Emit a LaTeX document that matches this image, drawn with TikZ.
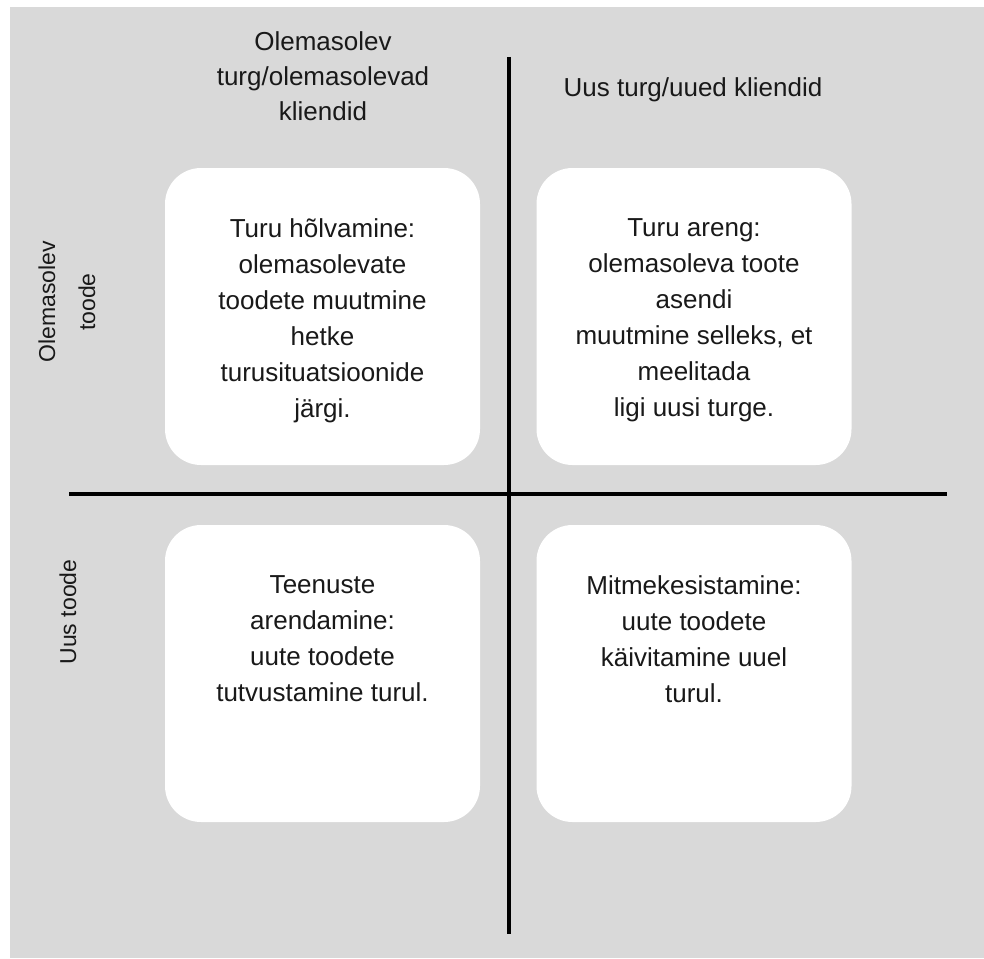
\documentclass[tikz,border=0pt]{standalone}
\usepackage{fontspec}
\setmainfont{Liberation Sans}
\usetikzlibrary{positioning}
\definecolor{bggray}{HTML}{D9D9D9}
\tikzset{
  quad/.style={fill=white, rounded corners=36pt, minimum width=315pt,
    minimum height=297pt, inner sep=0pt},
  quadtext/.style={align=center, inner sep=0pt, text=black!90,
    font=\fontsize{26}{36}\selectfont},
  sidetext/.style={quadtext, rotate=90, font=\fontsize{23}{40}\selectfont},
  axisline/.style={line width=4.5pt, black}
}
\begin{document}
\begin{tikzpicture}[x=1pt,y=-1pt]
\useasboundingbox (0,0) rectangle (984,958);
\fill[bggray] (10,7) rectangle (984,958);
% axes
\coordinate (vtop) at (509,57);
\coordinate (vbot) at (509,934);
\coordinate (hleft) at (69,494);
\coordinate (hright) at (947,494);
\draw[axisline] (vtop) -- (vbot);
\draw[axisline] (hleft) -- (hright);
% headings
\node[quadtext, anchor=north, font=\fontsize{26}{35}\selectfont] (oldmarket) at (323,31) {Olemasolev\\turg/olemasolevad\\kliendid};
\node[quadtext, anchor=base] (newmarket) at (693,96) {Uus turg/uued kliendid};
\node[sidetext] (oldprod) at (67,302) {Olemasolev\\toode};
\node[sidetext] (newprod) at (68,612) {Uus toode};
% the four fields
\node[quad] (tl) at (322.5,316.5) {};
\node[quad] (tr) at (694,316.5) {};
\node[quad] (bl) at (322.5,673.5) {};
\node[quad] (br) at (694,673.5) {};
\node[quadtext, below=51pt of tl.north] (tltext) {Turu hõlvamine:\\olemasolevate\\toodete muutmine\\hetke\\turusituatsioonide\\järgi.};
\node[quadtext, below=51pt of tr.north] (trtext) {Turu areng:\\olemasoleva toote\\asendi\\muutmine selleks, et\\meelitada\\ligi uusi turge.};
\node[quadtext, below=51pt of bl.north] (bltext) {Teenuste\\arendamine:\\uute toodete\\tutvustamine turul.};
\node[quadtext, below=51pt of br.north] (brtext) {Mitmekesistamine:\\uute toodete\\käivitamine uuel\\turul.};
\end{tikzpicture}
\end{document}
